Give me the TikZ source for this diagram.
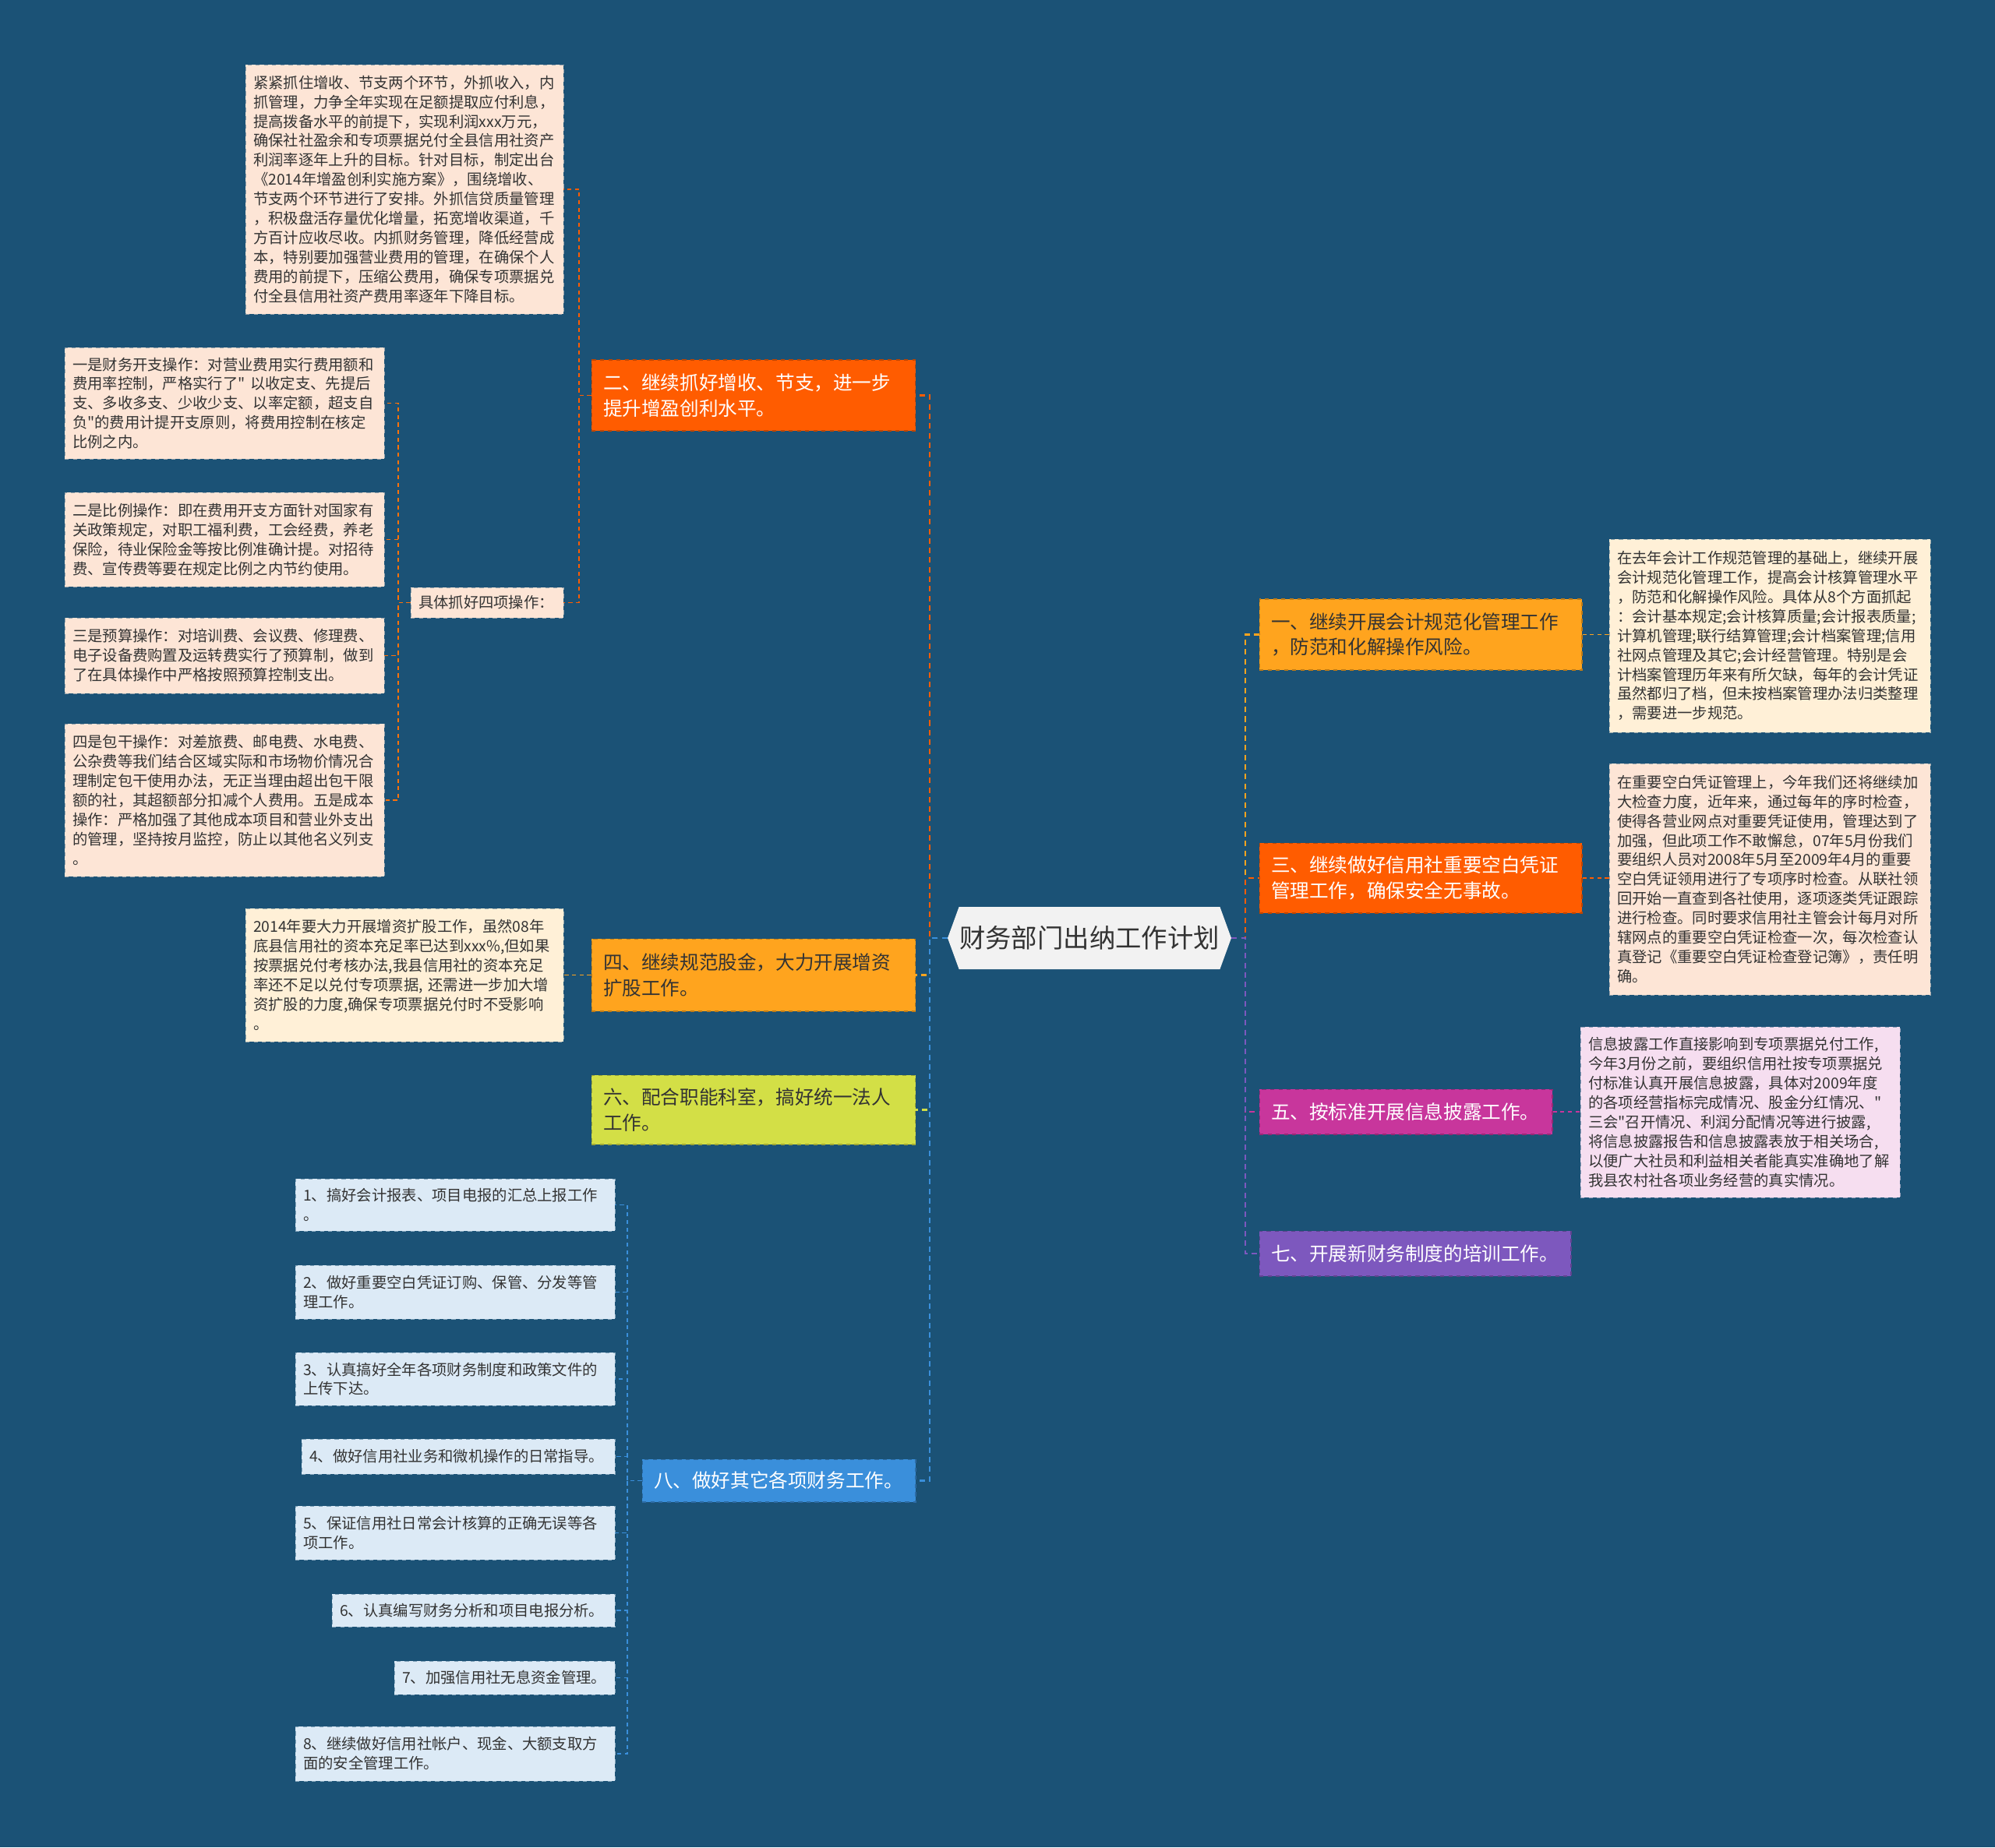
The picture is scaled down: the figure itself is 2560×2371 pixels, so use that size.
\documentclass[tikz,border=0pt]{standalone}
\usepackage{fontspec}
\setmainfont{Noto Sans CJK SC}[Ligatures=TeXOff]
\usetikzlibrary{shapes.symbols}
\definecolor{cnbg}{HTML}{1B5276}
\definecolor{cnink}{HTML}{333333}
\definecolor{cnrootfill}{HTML}{F2F2F2}
\definecolor{cnred}{HTML}{FF5C00}
\definecolor{cnorange}{HTML}{FFA41E}
\definecolor{cnlime}{HTML}{D3DF46}
\definecolor{cnblue}{HTML}{3A8FDB}
\definecolor{cnmagenta}{HTML}{C8369C}
\definecolor{cnpurple}{HTML}{7D58BE}
\definecolor{cnpeach}{HTML}{FDE5D6}
\definecolor{cncream}{HTML}{FFF0D7}
\definecolor{cnsky}{HTML}{DCEAF6}
\definecolor{cnpink}{HTML}{F6DEF0}
\tikzset{
  cnroot/.style={
    shape=signal,
    signal to=west and east,
    signal pointer angle=140,
    fill=cnrootfill,
    text=cnink,
    inner xsep=0pt,
    minimum width=7.28cm,
    minimum height=1.6cm,
    font=\fontsize{19pt}{23pt}\selectfont
  },
  cnbranch/.style={
    rectangle,
    fill=#1,
    draw=#1!75!black,
    dashed,
    line width=0.6pt,
    align=left,
    inner xsep=0.3cm,
    inner ysep=0pt,
    font=\fontsize{14pt}{18.6pt}\selectfont,
    text=white
  },
  cnbranchdark/.style={cnbranch=#1, text=cnink},
  cnleaf/.style={
    rectangle,
    fill=#1,
    draw=#1!55!cnbg,
    dashed,
    line width=0.5pt,
    align=left,
    inner xsep=0.2cm,
    inner ysep=0pt,
    font=\fontsize{11pt}{14.2pt}\selectfont,
    text=cnink
  },
  cnedge/.style={draw=#1, line width=1.4pt, dash pattern=on 4pt off 3pt},
  cnlink/.style={draw=#1, line width=1pt, dash pattern=on 3pt off 2.5pt}
}

\begin{document}
\begin{tikzpicture}[x=0.02cm, y={(0cm,-0.02cm)}]
  \fill[cnbg] (0,0) rectangle (2560,2371);

  % centre topic
  \node[cnroot] (root) at (1398,1204) {财务部门出纳工作计划};

  \coordinate (spineL) at (1193,0);
  \coordinate (spineR) at (1598,0);
  \coordinate (spine2) at (743,0);
  \coordinate (spineops) at (511,0);
  \coordinate (spine8) at (805,0);

  % left side
  \node[cnbranch=cnred, text width=7.72cm, minimum height=1.82cm] (b2) at (967,507.5) {%
    二、继续抓好增收、节支，进一步\\
    提升增盈创利水平。};
  \node[cnbranchdark=cnorange, text width=7.72cm, minimum height=1.86cm] (b4) at (967,1251.5) {%
    四、继续规范股金，大力开展增资\\
    扩股工作。};
  \node[cnbranchdark=cnlime, text width=7.72cm, minimum height=1.78cm] (b6) at (967,1424.5) {%
    六、配合职能科室，搞好统一法人\\
    工作。};
  \node[cnbranch=cnblue, text width=6.42cm, minimum height=1.1cm] (b8) at (999.5,1900.5) {%
    八、做好其它各项财务工作。};

  \node[cnleaf=cnpeach, text width=7.76cm, minimum height=6.4cm] (grow) at (519,243) {%
    紧紧抓住增收、节支两个环节，外抓收入，内\\
    抓管理，力争全年实现在足额提取应付利息，\\
    提高拨备水平的前提下，实现利润xxx万元，\\
    确保社社盈余和专项票据兑付全县信用社资产\\
    利润率逐年上升的目标。针对目标，制定出台\\
    《2014年增盈创利实施方案》，围绕增收、\\
    节支两个环节进行了安排。外抓信贷质量管理\\
    ，积极盘活存量优化增量，拓宽增收渠道，千\\
    方百计应收尽收。内抓财务管理，降低经营成\\
    本，特别要加强营业费用的管理，在确保个人\\
    费用的前提下，压缩公费用，确保专项票据兑\\
    付全县信用社资产费用率逐年下降目标。};
  \node[cnleaf=cnpeach, text width=3.52cm, minimum height=0.78cm] (ops) at (625,773.5) {%
    具体抓好四项操作：};

  \node[cnleaf=cnpeach, text width=7.8cm, minimum height=2.86cm] (op1) at (288,517.5) {%
    一是财务开支操作：对营业费用实行费用额和\\
    费用率控制，严格实行了"~以收定支、先提后\\
    支、多收多支、少收少支、以率定额，超支自\\
    负"的费用计提开支原则，将费用控制在核定\\
    比例之内。};
  \node[cnleaf=cnpeach, text width=7.8cm, minimum height=2.42cm] (op2) at (288,692.5) {%
    二是比例操作：即在费用开支方面针对国家有\\
    关政策规定，对职工福利费，工会经费，养老\\
    保险，待业保险金等按比例准确计提。对招待\\
    费、宣传费等要在规定比例之内节约使用。};
  \node[cnleaf=cnpeach, text width=7.8cm, minimum height=1.94cm] (op3) at (288,841.5) {%
    三是预算操作：对培训费、会议费、修理费、\\
    电子设备费购置及运转费实行了预算制，做到\\
    了在具体操作中严格按照预算控制支出。};
  \node[cnleaf=cnpeach, text width=7.8cm, minimum height=3.92cm] (op4) at (288,1027) {%
    四是包干操作：对差旅费、邮电费、水电费、\\
    公杂费等我们结合区域实际和市场物价情况合\\
    理制定包干使用办法，无正当理由超出包干限\\
    额的社，其超额部分扣减个人费用。五是成本\\
    操作：严格加强了其他成本项目和营业外支出\\
    的管理，坚持按月监控，防止以其他名义列支\\
    。};

  \node[cnleaf=cncream, text width=7.76cm, minimum height=3.42cm] (stock) at (519,1251.5) {%
    2014年要大力开展增资扩股工作，虽然08年\\
    底县信用社的资本充足率已达到xxx\%,但如果\\
    按票据兑付考核办法,我县信用社的资本充足\\
    率还不足以兑付专项票据, 还需进一步加大增\\
    资扩股的力度,确保专项票据兑付时不受影响\\
    。};

  \node[cnleaf=cnsky, text width=7.8cm, minimum height=1.34cm] (s1) at (584,1546.5) {%
    1、搞好会计报表、项目电报的汇总上报工作\\
    。};
  \node[cnleaf=cnsky, text width=7.8cm, minimum height=1.38cm] (s2) at (584,1658.5) {%
    2、做好重要空白凭证订购、保管、分发等管\\
    理工作。};
  \node[cnleaf=cnsky, text width=7.8cm, minimum height=1.36cm] (s3) at (584,1770) {%
    3、认真搞好全年各项财务制度和政策文件的\\
    上传下达。};
  \node[cnleaf=cnsky, text width=7.64cm, minimum height=0.9cm] (s4) at (588,1869.5) {%
    4、做好信用社业务和微机操作的日常指导。};
  \node[cnleaf=cnsky, text width=7.8cm, minimum height=1.38cm] (s5) at (584,1967.5) {%
    5、保证信用社日常会计核算的正确无误等各\\
    项工作。};
  \node[cnleaf=cnsky, text width=6.86cm, minimum height=0.84cm] (s6) at (607.5,2067) {%
    6、认真编写财务分析和项目电报分析。};
  \node[cnleaf=cnsky, text width=5.26cm, minimum height=0.86cm] (s7) at (647.5,2153.5) {%
    7、加强信用社无息资金管理。};
  \node[cnleaf=cnsky, text width=7.8cm, minimum height=1.4cm] (s8) at (584,2251) {%
    8、继续做好信用社帐户、现金、大额支取方\\
    面的安全管理工作。};

  % right side
  \node[cnbranchdark=cnorange, text width=7.68cm, minimum height=1.82cm] (b1) at (1823,814.5) {%
    一、继续开展会计规范化管理工作\\
    ，防范和化解操作风险。};
  \node[cnbranch=cnred, text width=7.68cm, minimum height=1.8cm] (b3) at (1823,1127) {%
    三、继续做好信用社重要空白凭证\\
    管理工作，确保安全无事故。};
  \node[cnbranch=cnmagenta, text width=6.92cm, minimum height=1.16cm] (b5) at (1804,1427) {%
    五、按标准开展信息披露工作。};
  \node[cnbranch=cnpurple, text width=7.4cm, minimum height=1.16cm] (b7) at (1816,1609) {%
    七、开展新财务制度的培训工作。};

  \node[cnleaf=cncream, text width=7.84cm, minimum height=4.96cm] (acct) at (2271,816) {%
    在去年会计工作规范管理的基础上，继续开展\\
    会计规范化管理工作，提高会计核算管理水平\\
    ，防范和化解操作风险。具体从8个方面抓起\\
    ：会计基本规定;会计核算质量;会计报表质量;\\
    计算机管理;联行结算管理;会计档案管理;信用\\
    社网点管理及其它;会计经营管理。特别是会\\
    计档案管理历年来有所欠缺，每年的会计凭证\\
    虽然都归了档，但未按档案管理办法归类整理\\
    ，需要进一步规范。};
  \node[cnleaf=cnpeach, text width=7.84cm, minimum height=5.94cm] (voucher) at (2271,1128.5) {%
    在重要空白凭证管理上，今年我们还将继续加\\
    大检查力度，近年来，通过每年的序时检查，\\
    使得各营业网点对重要凭证使用，管理达到了\\
    加强，但此项工作不敢懈怠，07年5月份我们\\
    要组织人员对2008年5月至2009年4月的重要\\
    空白凭证领用进行了专项序时检查。从联社领\\
    回开始一直查到各社使用，逐项逐类凭证跟踪\\
    进行检查。同时要求信用社主管会计每月对所\\
    辖网点的重要空白凭证检查一次，每次检查认\\
    真登记《重要空白凭证检查登记簿》，责任明\\
    确。};
  \node[cnleaf=cnpink, text width=7.8cm, minimum height=4.38cm] (disclose) at (2233,1427.5) {%
    信息披露工作直接影响到专项票据兑付工作,\\
    今年3月份之前，要组织信用社按专项票据兑\\
    付标准认真开展信息披露，具体对2009年度\\
    的各项经营指标完成情况、股金分红情况、"\\
    三会"召开情况、利润分配情况等进行披露,\\
    将信息披露报告和信息披露表放于相关场合,\\
    以便广大社员和利益相关者能真实准确地了解\\
    我县农村社各项业务经营的真实情况。};

  % main connectors
  \draw[cnedge=cnorange] (root.west) -- (root.west -| spineL) |- (b4.east);
  \draw[cnedge=cnlime] (root.west) -- (root.west -| spineL) |- (b6.east);
  \draw[cnedge=cnred] (root.west) -- (root.west -| spineL) |- (b2.east);
  \draw[cnedge=cnblue] (root.west) -- (root.west -| spineL) |- (b8.east);
  \draw[cnedge=cnorange] (root.east) -- (root.east -| spineR) |- (b1.west);
  \draw[cnedge=cnred] (root.east) -- (root.east -| spineR) |- (b3.west);
  \draw[cnedge=cnmagenta] (root.east) -- (root.east -| spineR) |- (b5.west);
  \draw[cnedge=cnpurple] (root.east) -- (root.east -| spineR) |- (b7.west);

  % sub connectors
  \draw[cnlink=cnred] (b2.west) -- (b2.west -| spine2) |- (grow.east);
  \draw[cnlink=cnred] (b2.west) -- (b2.west -| spine2) |- (ops.east);
  \draw[cnlink=cnred!70!cnorange] (ops.west) -- (ops.west -| spineops) |- (op1.east);
  \draw[cnlink=cnred!70!cnorange] (ops.west) -- (ops.west -| spineops) |- (op2.east);
  \draw[cnlink=cnred!70!cnorange] (ops.west) -- (ops.west -| spineops) |- (op3.east);
  \draw[cnlink=cnred!70!cnorange] (ops.west) -- (ops.west -| spineops) |- (op4.east);
  \draw[cnlink=cnorange] (b4.west) -- (b4.west -| stock.east);
  \draw[cnlink=cnblue] (b8.west) -- (b8.west -| spine8) |- (s1.east);
  \draw[cnlink=cnblue] (b8.west) -- (b8.west -| spine8) |- (s2.east);
  \draw[cnlink=cnblue] (b8.west) -- (b8.west -| spine8) |- (s3.east);
  \draw[cnlink=cnblue] (b8.west) -- (b8.west -| spine8) |- (s4.east);
  \draw[cnlink=cnblue] (b8.west) -- (b8.west -| spine8) |- (s5.east);
  \draw[cnlink=cnblue] (b8.west) -- (b8.west -| spine8) |- (s6.east);
  \draw[cnlink=cnblue] (b8.west) -- (b8.west -| spine8) |- (s7.east);
  \draw[cnlink=cnblue] (b8.west) -- (b8.west -| spine8) |- (s8.east);
  \draw[cnlink=cnorange] (b1.east) -- (b1.east -| acct.west);
  \draw[cnlink=cnred] (b3.east) -- (b3.east -| voucher.west);
  \draw[cnlink=cnmagenta] (b5.east) -- (b5.east -| disclose.west);
\end{tikzpicture}
\end{document}
